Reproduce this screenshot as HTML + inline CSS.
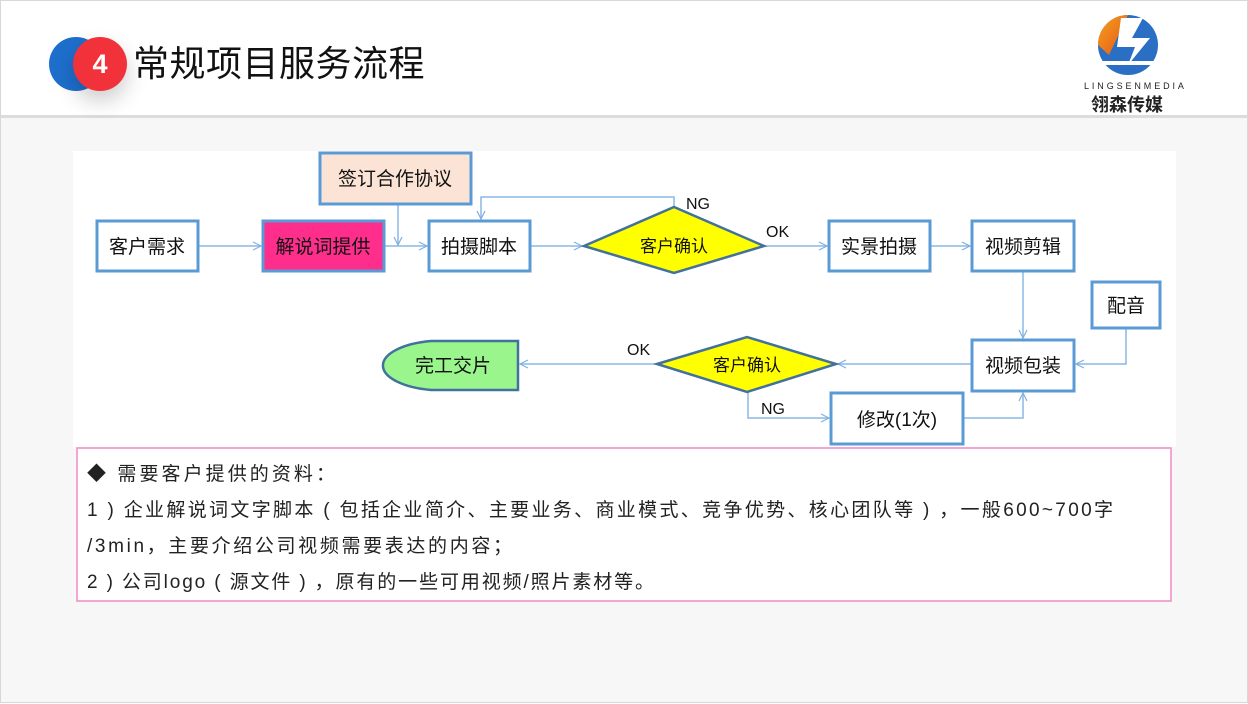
<!DOCTYPE html>
<html><head><meta charset="utf-8"><style>
body{margin:0;width:1248px;height:703px;overflow:hidden;background:#fff;font-family:"Liberation Sans","Noto Sans CJK SC",sans-serif;}
.slide{position:absolute;left:0;top:0;width:1246px;height:701px;border:1px solid #d8d8d8;background:#f7f7f7;}
.head{position:absolute;left:0;top:0;width:1246px;height:114px;background:#fff;border-bottom:3px solid #dcdcdc;}
.t{position:absolute;white-space:nowrap;}
</style></head><body>
<div class="slide">
<div class="head"></div>
<div style="position:absolute;left:48px;top:36px;width:54px;height:54px;border-radius:50%;background:#1e6fcc;"></div>
<div style="position:absolute;left:72px;top:36px;width:54px;height:54px;border-radius:50%;background:#f2323a;box-shadow:0 10px 22px rgba(0,0,0,.2);color:#fff;font-weight:bold;font-size:27px;text-align:center;line-height:54px;">4</div>
<div class="t" style="left:132px;top:39px;font-size:36px;letter-spacing:0.5px;color:#111;line-height:48px;">常规项目服务流程</div>
<svg style="position:absolute;left:1090px;top:10px" width="80" height="70">
<defs><linearGradient id="g" x1="0" y1="0" x2="1" y2="1"><stop offset="0" stop-color="#f7a21b"/><stop offset="1" stop-color="#e2541a"/></linearGradient></defs>
<circle cx="37" cy="34" r="30" fill="#2a6fc4"/>
<path d="M7 34 A30 30 0 0 1 37 4 L18 44 Z" fill="url(#g)"/>
<path d="M30 7 L52 7 L41 27 L59 27 L37 54 L44 36 L26 36 Z" fill="#fff"/>
<rect x="8" y="50" width="58" height="4" fill="#fff"/>
</svg>
<div class="t" style="left:1083px;top:80px;font-size:9px;letter-spacing:2.9px;color:#222;">LINGSENMEDIA</div>
<div class="t" style="left:1090px;top:90px;font-size:18px;font-weight:bold;color:#222;">翎森传媒</div>

<svg style="position:absolute;left:0;top:0" width="1248" height="703" font-family="Liberation Sans, Noto Sans CJK SC, sans-serif">
<defs><marker id="a" markerWidth="10" markerHeight="10" refX="9" refY="5" orient="auto" markerUnits="userSpaceOnUse"><path d="M1 1 L9 5 L1 9" fill="none" stroke="#7fb0e0" stroke-width="1.2"/></marker></defs>
<rect x="72" y="150" width="1103" height="296" fill="#fff"/>
<g fill="none" stroke="#8ab8e6" stroke-width="1.5">
<path d="M197 245 H260" marker-end="url(#a)"/>
<path d="M383 245 H426" marker-end="url(#a)"/>
<path d="M397 203 V244" marker-end="url(#a)"/>
<path d="M529 245 H581" marker-end="url(#a)"/>
<path d="M673 206 V196 H480 V218" marker-end="url(#a)"/>
<path d="M763 245 H826" marker-end="url(#a)"/>
<path d="M929 245 H969" marker-end="url(#a)"/>
<path d="M1022 270 V337" marker-end="url(#a)"/>
<path d="M1125 327 V363 H1075" marker-end="url(#a)"/>
<path d="M971 363 H837" marker-end="url(#a)"/>
<path d="M656 363 H519" marker-end="url(#a)"/>
<path d="M747 391 V417 H828" marker-end="url(#a)"/>
<path d="M962 417 H1022 V392" marker-end="url(#a)"/>
</g>
<g stroke="#5b9bd5" stroke-width="3">
<rect x="96" y="220" width="101" height="50" fill="#fff"/>
<rect x="262" y="220" width="121" height="50" fill="#ff2d8c"/>
<rect x="319" y="152" width="151" height="51" fill="#fbe3d6"/>
<rect x="428" y="220" width="101" height="50" fill="#fff"/>
<rect x="828" y="220" width="101" height="50" fill="#fff"/>
<rect x="971" y="220" width="102" height="50" fill="#fff"/>
<rect x="1091" y="281" width="68" height="46" fill="#fff"/>
<rect x="971" y="339" width="102" height="51" fill="#fff"/>
<rect x="830" y="392" width="132" height="51" fill="#fff"/>
</g>
<g stroke="#41719c" stroke-width="2.5">
<path d="M583 245 L673 206 L763 245 L673 272 Z" fill="#ffff00"/>
<path d="M656 363 L746 336 L835 363 L746 391 Z" fill="#ffff00"/>
<path d="M517 340 H430 A60 25 0 0 0 430 389 H517 Z" fill="#99f58c"/>
</g>
<g font-size="19" fill="#111" text-anchor="middle">
<text x="146" y="252">客户需求</text>
<text x="322" y="252">解说词提供</text>
<text x="394" y="184">签订合作协议</text>
<text x="478" y="252">拍摄脚本</text>
<text x="878" y="252">实景拍摄</text>
<text x="1022" y="252">视频剪辑</text>
<text x="1125" y="311">配音</text>
<text x="1022" y="371">视频包装</text>
<text x="896" y="425">修改(1次)</text>
<text x="452" y="371">完工交片</text>
</g>
<g font-size="17" fill="#111" text-anchor="middle">
<text x="673" y="251">客户确认</text>
<text x="746" y="370">客户确认</text>
</g>
<g font-size="16" fill="#111">
<text x="685" y="208">NG</text>
<text x="765" y="236">OK</text>
<text x="626" y="354">OK</text>
<text x="760" y="413">NG</text>
</g>
<rect x="76" y="447" width="1094" height="153" fill="#fff" stroke="#f08ac8" stroke-width="1.5"/>
<g font-size="19" fill="#222">
<text x="86" y="479" textLength="248" lengthAdjust="spacing">◆ 需要客户提供的资料：</text>
<text x="86" y="515" textLength="1026" lengthAdjust="spacing">1 ) 企业解说词文字脚本 ( 包括企业简介、主要业务、商业模式、竞争优势、核心团队等 ) ，一般600~700字</text>
<text x="86" y="551" textLength="425" lengthAdjust="spacing">/3min，主要介绍公司视频需要表达的内容；</text>
<text x="86" y="587" textLength="567" lengthAdjust="spacing">2 ) 公司logo ( 源文件 ) ，原有的一些可用视频/照片素材等。</text>
</g>
</svg>
</div>
</body></html>
